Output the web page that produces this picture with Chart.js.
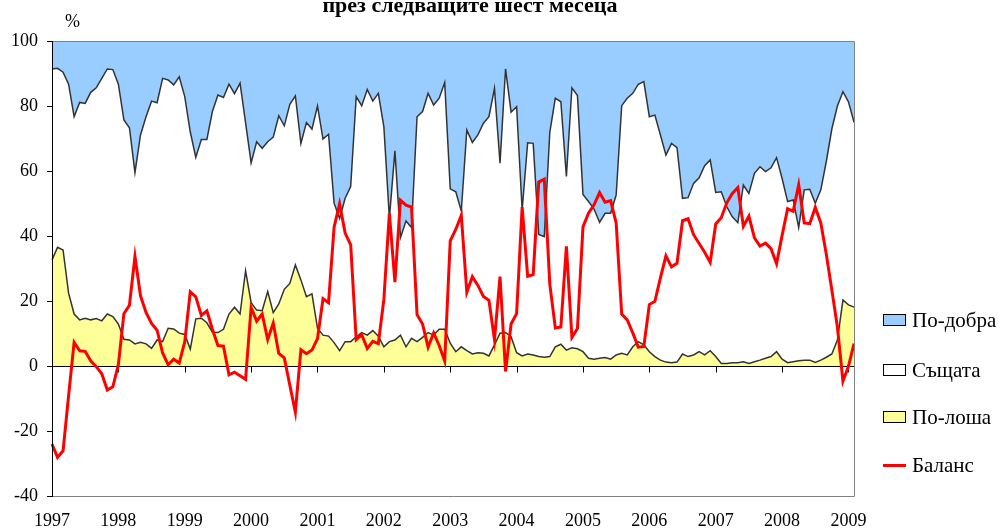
<!DOCTYPE html>
<html lang="bg">
<head>
<meta charset="utf-8">
<title>Очаквания през следващите шест месеца</title>
<script src="https://cdn.jsdelivr.net/npm/chart.js@4.4.1/dist/chart.umd.min.js"></script>
<style>
  html, body { margin: 0; padding: 0; background: #fff; overflow: hidden; }
  #wrap { position: relative; width: 998px; height: 531px; overflow: hidden; font-family: "Liberation Serif", "Times New Roman", serif; color: #000; }
  #grafik { position: absolute; left: 0; top: 0; }
  .zaglavie { position: absolute; left: 470px; top: -6px; transform: translateX(-50%); font-weight: bold; font-size: 22px; line-height: 22px; white-space: nowrap; }
  .procent { position: absolute; left: 65px; top: 11px; font-size: 18px; line-height: 20px; }
  .red { position: absolute; left: 883px; height: 22px; display: flex; align-items: center; white-space: nowrap; font-size: 21px; }
  .kutia { width: 21px; height: 10px; border: 1px solid #000; margin-right: 6px; }
  .liniq { width: 23px; height: 3px; background: #ff0000; margin-right: 6px; }
</style>
</head>
<body>
<div id="wrap">
  <canvas id="grafik" width="998" height="531"></canvas>
  <div class="zaglavie">през следващите шест месеца</div>
  <div class="procent">%</div>
  <div class="red" style="top:309px"><div class="kutia" style="background:#99ccff"></div>По-добра</div>
  <div class="red" style="top:359px"><div class="kutia" style="background:#ffffff"></div>Същата</div>
  <div class="red" style="top:406px"><div class="kutia" style="background:#ffff99"></div>По-лоша</div>
  <div class="red" style="top:454px"><div class="liniq"></div>Баланс</div>
</div>
<script>
// месечни данни, януари 1997 - февруари 2009
const godini = ["1997", "1998", "1999", "2000", "2001", "2002", "2003", "2004", "2005", "2006", "2007", "2008", "2009"];

const poDobra = [
  8.6, 8.4, 9.6, 13.3, 23.3, 18.9, 19.2, 15.8, 14.4, 11.5, 8.6, 8.8,
  13.3, 24.3, 26.7, 40.5, 28.9, 23.3, 18.5, 19.0, 11.5, 12.0, 13.5, 11.0,
  17.1, 28.0, 35.8, 30.3, 30.3, 21.7, 16.6, 17.4, 13.3, 16.2, 13.0, 25.2,
  37.5, 31.0, 33.0, 31.0, 29.6, 23.0, 26.1, 19.5, 16.9, 31.5, 25.1, 27.1,
  20.0, 30.2, 28.7, 49.9, 54.6, 48.4, 44.8, 17.1, 19.9, 14.9, 18.5, 16.1,
  26.4, 54.5, 33.8, 60.5, 55.4, 57.4, 23.3, 21.7, 16.1, 19.7, 17.6, 12.8,
  45.5, 46.4, 52.3, 27.4, 31.2, 28.9, 25.3, 23.3, 14.6, 37.6, 8.6, 21.9,
  20.2, 52.0, 31.3, 31.5, 59.5, 60.2, 28.1, 17.6, 18.7, 41.7, 14.4, 16.8,
  47.2, 49.4, 51.7, 55.8, 53.0, 53.0, 47.4, 19.9, 17.6, 16.1, 13.3, 12.5,
  23.3, 22.8, 28.9, 35.1, 31.5, 32.8, 48.4, 48.2, 43.8, 42.1, 38.4, 36.6,
  46.6, 46.4, 51.0, 54.1, 55.9, 44.3, 46.9, 40.7, 38.7, 40.2, 39.0, 35.9,
  42.3, 49.4, 48.9, 57.4, 45.8, 45.6, 49.9, 45.8, 37.0, 27.0, 20.0, 15.6,
  18.7, 25.0
];

const sashtata = [
  58.8, 55.1, 54.7, 64.3, 60.7, 66.9, 66.1, 70.0, 71.0, 74.6, 75.4, 76.0,
  73.8, 67.5, 65.3, 52.7, 63.8, 69.9, 76.1, 73.0, 81.0, 76.4, 75.1, 78.9,
  73.2, 66.8, 49.7, 55.0, 56.4, 67.9, 73.1, 71.3, 70.7, 65.7, 71.0, 45.5,
  43.0, 51.8, 50.0, 46.1, 54.0, 57.9, 50.3, 55.1, 52.0, 42.0, 53.6, 50.7,
  68.4, 60.3, 62.1, 42.9, 40.7, 44.1, 47.7, 73.9, 69.8, 75.6, 70.6, 74.7,
  67.7, 38.0, 58.2, 30.0, 38.7, 34.1, 69.2, 69.5, 73.6, 70.8, 71.1, 75.9,
  47.5, 49.2, 41.8, 67.9, 65.1, 67.0, 70.8, 73.6, 78.9, 52.3, 81.1, 69.1,
  75.7, 44.9, 65.0, 65.1, 37.6, 37.1, 69.0, 76.5, 74.6, 53.4, 80.0, 77.9,
  48.4, 48.2, 46.2, 41.8, 44.4, 44.9, 49.2, 76.2, 79.0, 78.0, 79.2, 81.0,
  72.3, 74.3, 69.3, 63.7, 67.5, 66.0, 47.9, 48.9, 52.8, 53.5, 58.2, 58.7,
  50.5, 52.8, 48.2, 44.9, 43.1, 54.4, 52.3, 58.0, 59.5, 57.4, 58.1, 59.7,
  55.6, 49.6, 49.8, 41.0, 52.4, 52.6, 49.0, 52.4, 60.3, 69.3, 72.0, 64.1,
  62.5, 56.9
];

const poLosha = [
  32.6, 36.5, 35.7, 22.4, 16.0, 14.2, 14.7, 14.2, 14.6, 13.9, 16.0, 15.2,
  12.9, 8.2, 8.0, 6.8, 7.3, 6.8, 5.4, 8.0, 7.5, 11.6, 11.4, 10.1,
  9.7, 5.2, 14.5, 14.7, 13.3, 10.4, 10.3, 11.3, 16.0, 18.1, 16.0, 29.3,
  19.5, 17.2, 17.0, 22.9, 16.4, 19.1, 23.6, 25.4, 31.1, 26.5, 21.3, 22.2,
  11.6, 9.5, 9.2, 7.2, 4.7, 7.5, 7.5, 9.0, 10.3, 9.5, 10.9, 9.2,
  5.9, 7.5, 8.0, 9.5, 5.9, 8.5, 7.5, 8.8, 10.3, 9.5, 11.3, 11.3,
  7.0, 4.4, 5.9, 4.7, 3.7, 4.1, 3.9, 3.1, 6.5, 10.1, 10.3, 9.0,
  4.1, 3.1, 3.7, 3.4, 2.9, 2.7, 2.9, 5.9, 6.7, 4.9, 5.6, 5.3,
  4.4, 2.4, 2.1, 2.4, 2.6, 2.1, 3.4, 3.9, 3.4, 5.9, 7.5, 6.5,
  4.4, 2.9, 1.8, 1.2, 1.0, 1.2, 3.7, 2.9, 3.4, 4.4, 3.4, 4.7,
  2.9, 0.8, 0.8, 1.0, 1.0, 1.3, 0.8, 1.3, 1.8, 2.4, 2.9, 4.4,
  2.1, 1.0, 1.3, 1.6, 1.8, 1.8, 1.1, 1.8, 2.7, 3.7, 8.0, 20.3,
  18.8, 18.1
];

const balans = [
  -24.0, -28.1, -26.1, -9.1, 7.3, 4.7, 4.5, 1.6, -0.2, -2.4, -7.4, -6.4,
  0.4, 16.1, 18.7, 33.7, 21.6, 16.5, 13.1, 11.0, 4.0, 0.4, 2.1, 0.9,
  7.4, 22.8, 21.3, 15.6, 17.0, 11.3, 6.3, 6.1, -2.7, -1.9, -3.0, -4.1,
  18.0, 13.8, 16.0, 8.1, 13.2, 3.9, 2.5, -5.9, -14.2, 5.0, 3.8, 4.9,
  8.4, 20.7, 19.5, 42.7, 49.9, 40.9, 37.3, 8.1, 9.6, 5.4, 7.6, 6.9,
  20.5, 47.0, 25.8, 51.0, 49.5, 48.9, 15.8, 12.9, 5.8, 10.2, 6.3, 1.5,
  38.5, 42.0, 46.4, 22.7, 27.5, 24.8, 21.4, 20.2, 8.1, 27.5, -1.7, 12.9,
  16.1, 48.9, 27.6, 28.1, 56.6, 57.5, 25.2, 11.7, 12.0, 36.8, 8.8, 11.5,
  42.8, 47.0, 49.6, 53.4, 50.4, 50.9, 44.0, 16.0, 14.2, 10.2, 5.8, 6.0,
  18.9, 19.9, 27.1, 33.9, 30.5, 31.6, 44.7, 45.3, 40.4, 37.7, 35.0, 31.9,
  43.7, 45.6, 50.2, 53.1, 54.9, 43.0, 46.1, 39.4, 36.9, 37.8, 36.1, 31.5,
  40.2, 48.4, 47.6, 55.8, 44.0, 43.8, 48.8, 44.0, 34.3, 23.3, 12.0, -4.7,
  -0.1, 6.9
];

const meseci = poDobra.map((_, i) => godini[Math.floor(i / 12)] + "-" + (i % 12 + 1));

// нулева линия с чертички за годините, рамка на графиката
const ramka = {
  id: "ramka",
  beforeDatasetDraw(chart, args) {
    if (args.index !== 3) return;
    const { ctx, chartArea: a, scales } = chart;
    const y0 = Math.round(scales.y.getPixelForValue(0)) + 0.5;
    ctx.save();
    ctx.strokeStyle = "#000";
    ctx.lineWidth = 1;
    ctx.beginPath();
    ctx.moveTo(a.left, y0);
    ctx.lineTo(a.right, y0);
    for (let i = 0; i < meseci.length; i += 12) {
      const x = Math.round(scales.x.getPixelForValue(i)) + 0.5;
      ctx.moveTo(x, y0);
      ctx.lineTo(x, y0 + 6);
    }
    ctx.stroke();
    ctx.restore();
  },
  afterDatasetsDraw(chart) {
    const { ctx, chartArea: a } = chart;
    ctx.save();
    ctx.lineWidth = 1;
    ctx.strokeStyle = "#808080";
    ctx.beginPath();
    ctx.moveTo(a.left, a.top + 0.5);
    ctx.lineTo(a.right + 0.5, a.top + 0.5);
    ctx.lineTo(a.right + 0.5, a.bottom + 0.5);
    ctx.lineTo(a.left, a.bottom + 0.5);
    ctx.stroke();
    ctx.strokeStyle = "#000";
    ctx.beginPath();
    ctx.moveTo(a.left + 0.5, a.top);
    ctx.lineTo(a.left + 0.5, a.bottom + 1);
    ctx.stroke();
    ctx.restore();
  }
};

const shrift = { family: "'Liberation Serif', 'Times New Roman', serif", size: 18 };

new Chart(document.getElementById("grafik"), {
  type: "line",
  data: {
    labels: meseci,
    datasets: [
      { label: "По-лоша", data: poLosha, stack: "dyal", fill: "origin", backgroundColor: "#ffff99", borderColor: "#333333", borderWidth: 1.5, pointRadius: 0, order: 1 },
      { label: "Същата", data: sashtata, stack: "dyal", fill: "-1", backgroundColor: "#ffffff", borderColor: "#333333", borderWidth: 1.5, pointRadius: 0, order: 1 },
      { label: "По-добра", data: poDobra, stack: "dyal", fill: "-1", backgroundColor: "#99ccff", borderColor: "#99ccff", borderWidth: 0, pointRadius: 0, order: 1 },
      { label: "Баланс", data: balans, stack: "balans", fill: false, borderColor: "#ff0000", borderWidth: 3, pointRadius: 0, order: 0 }
    ]
  },
  options: {
    responsive: false,
    animation: false,
    layout: { padding: { top: 41, right: 144, left: 0, bottom: 0 } },
    plugins: {
      legend: { display: false },
      tooltip: { enabled: false },
      title: { display: false }
    },
    scales: {
      x: {
        type: "category",
        offset: false,
        grid: { display: false, drawTicks: false },
        border: { display: false },
        ticks: {
          autoSkip: false,
          maxRotation: 0,
          minRotation: 0,
          padding: 14,
          color: "#000",
          font: shrift,
          callback: (v, i) => (i % 12 === 0 ? godini[i / 12] : "")
        },
        afterFit: s => { s.height = 35; }
      },
      y: {
        stacked: true,
        min: -40,
        max: 100,
        ticks: { stepSize: 20, color: "#000", font: shrift, padding: 9 },
        grid: { drawOnChartArea: false, drawTicks: true, tickLength: 5, color: "#000" },
        border: { display: true, color: "#000" },
        afterFit: s => { s.width = 52; }
      }
    }
  },
  plugins: [ramka]
});
</script>
</body>
</html>
